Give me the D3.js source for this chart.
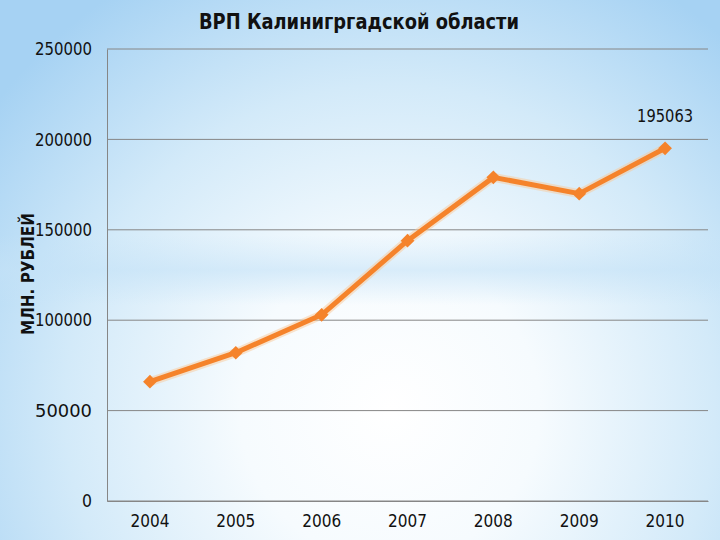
<!DOCTYPE html>
<html>
<head>
<meta charset="utf-8">
<script src="https://cdn.jsdelivr.net/npm/d3@7"></script>
<style>
  body { margin: 0; padding: 0; }
  svg { display: block; }
</style>
</head>
<body>
<div id="chart"></div>
<script>
// data
var years = ["2004", "2005", "2006", "2007", "2008", "2009", "2010"];
var grp = [66000, 82000, 103000, 144000, 179000, 170000, 195063];
var yTicks = [0, 50000, 100000, 150000, 200000, 250000];
var titleText = "ВРП Калинигргадской области";
var yLabelText = "МЛН. РУБЛЕЙ";

var svgWidth = 720, svgHeight = 540;
var margin = {top: 49, right: 12, bottom: 39, left: 107},
    width = svgWidth - margin.left - margin.right,
    height = svgHeight - margin.top - margin.bottom;

var svg = d3.select("#chart")
  .append("svg")
    .attr("width", svgWidth)
    .attr("height", svgHeight);

// background: pale blue with a white glow
var defs = svg.append("defs");
var rg = defs.append("radialGradient")
  .attr("id", "bg")
  .attr("gradientUnits", "userSpaceOnUse")
  .attr("cx", 390).attr("cy", 410).attr("r", 500);
rg.append("stop").attr("offset", "0%").attr("stop-color", "#ffffff");
rg.append("stop").attr("offset", "30%").attr("stop-color", "#f6fbfe");
rg.append("stop").attr("offset", "65%").attr("stop-color", "#d3eaf9");
rg.append("stop").attr("offset", "100%").attr("stop-color", "#a6d2f3");

var band = defs.append("linearGradient")
  .attr("id", "band").attr("x1", 0).attr("y1", 0).attr("x2", 0).attr("y2", 1);
band.append("stop").attr("offset", "0%").attr("stop-color", "#c4e2f7").attr("stop-opacity", 0);
band.append("stop").attr("offset", "50%").attr("stop-color", "#c4e2f7").attr("stop-opacity", 0.6);
band.append("stop").attr("offset", "100%").attr("stop-color", "#c4e2f7").attr("stop-opacity", 0);

svg.append("rect")
  .attr("width", svgWidth).attr("height", svgHeight)
  .attr("fill", "url(#bg)");
svg.append("rect")
  .attr("x", 0).attr("y", 235).attr("width", svgWidth).attr("height", 70)
  .attr("fill", "url(#band)");

var g = svg.append("g")
  .attr("transform", "translate(" + margin.left + "," + margin.top + ")");

// scales
var x = d3.scaleBand()
  .domain(years)
  .range([0, width]);
var y = d3.scaleLinear()
  .domain([0, 250000])
  .range([height, 0]);

// gridlines
g.append("g")
  .selectAll("line")
  .data(yTicks)
  .join("line")
    .attr("x1", 0).attr("x2", width)
    .attr("y1", d => y(d)).attr("y2", d => y(d))
    .attr("stroke", "#868686")
    .attr("stroke-width", 1);

// y axis
var yAxis = g.append("g")
  .call(d3.axisLeft(y).tickValues(yTicks).tickSize(0).tickPadding(15).tickFormat(d3.format("d")));
yAxis.select(".domain").attr("stroke", "#868686");
yAxis.selectAll("text")
  .attr("font-family", "'DejaVu Sans', sans-serif")
  .attr("font-size", 18)
  .attr("textLength", 57)
  .attr("lengthAdjust", "spacingAndGlyphs")
  .attr("fill", "#111");
yAxis.selectAll("text").filter(d => d === 0).attr("textLength", 10);

// x axis
var xAxis = g.append("g")
  .attr("transform", "translate(0," + height + ")")
  .call(d3.axisBottom(x).tickSize(0).tickPadding(13));
xAxis.select(".domain").attr("stroke", "#868686");
xAxis.selectAll("text")
  .attr("font-family", "'DejaVu Sans', sans-serif")
  .attr("font-size", 18)
  .attr("textLength", 39)
  .attr("lengthAdjust", "spacingAndGlyphs")
  .attr("fill", "#111");

// the line
var line = d3.line()
  .x((d, i) => x(years[i]) + x.bandwidth() / 2)
  .y(d => y(d));

g.append("path")
  .datum(grp)
  .attr("d", line)
  .attr("fill", "none")
  .attr("stroke", "#f9c99a")
  .attr("stroke-width", 9)
  .attr("stroke-linejoin", "round")
  .attr("opacity", 0.5);

g.append("path")
  .datum(grp)
  .attr("d", line)
  .attr("fill", "none")
  .attr("stroke", "#f5832b")
  .attr("stroke-width", 5)
  .attr("stroke-linejoin", "round");

// diamond markers
g.append("g")
  .selectAll("path")
  .data(grp)
  .join("path")
    .attr("transform", (d, i) => "translate(" + (x(years[i]) + x.bandwidth() / 2) + "," + y(d) + ")")
    .attr("d", d3.symbol().type(d3.symbolDiamond2).size(120))
    .attr("fill", "#f5832b");

// value label on the last point
g.append("text")
  .attr("x", x(years[6]) + x.bandwidth() / 2)
  .attr("y", y(grp[6]) - 26)
  .attr("text-anchor", "middle")
  .attr("font-family", "'DejaVu Sans', sans-serif")
  .attr("font-size", 17)
  .attr("textLength", 56)
  .attr("lengthAdjust", "spacingAndGlyphs")
  .attr("fill", "#111")
  .text(grp[6]);

// title
svg.append("text")
  .attr("x", 359)
  .attr("y", 29)
  .attr("text-anchor", "middle")
  .attr("font-family", "'DejaVu Sans', sans-serif")
  .attr("font-weight", "bold")
  .attr("font-size", 21)
  .attr("textLength", 320)
  .attr("lengthAdjust", "spacingAndGlyphs")
  .attr("fill", "#111")
  .text(titleText);

// y axis label
svg.append("text")
  .attr("transform", "translate(34,274) rotate(-90)")
  .attr("text-anchor", "middle")
  .attr("font-family", "'DejaVu Sans', sans-serif")
  .attr("font-weight", "bold")
  .attr("font-size", 17)
  .attr("textLength", 122)
  .attr("lengthAdjust", "spacingAndGlyphs")
  .attr("fill", "#111")
  .text(yLabelText);
</script>
</body>
</html>
